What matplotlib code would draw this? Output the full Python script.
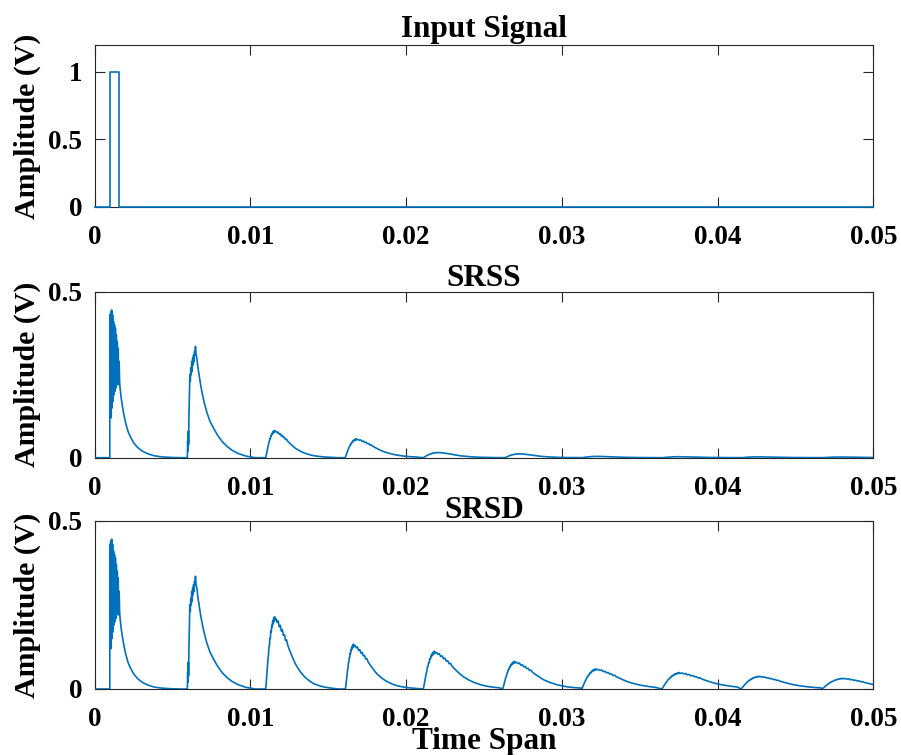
import numpy as np
import matplotlib
matplotlib.use("Agg")
import matplotlib.pyplot as plt

# ---------------- data (times in ms, amplitudes in V) ----------------
input_t = [0.0, 1.0, 1.0, 1.56, 1.56, 50.0]
input_v = [0, 0, 1, 1, 0, 0]

# first response pulse (same in both outputs)
pulse1_t = [0.97, 0.97, 1.00, 1.03, 1.06, 1.09, 1.12, 1.15, 1.18, 1.21,
            1.24, 1.27, 1.30, 1.33, 1.36, 1.39, 1.42, 1.45, 1.48, 1.51,
            1.54, 1.57, 1.60, 1.63, 1.70, 1.78, 1.88, 2.00, 2.15, 2.30,
            2.50, 2.75, 3.05, 3.40, 3.80, 4.30, 4.90, 5.50]
pulse1_v = [0.0, 0.43, 0.17, 0.44, 0.12, 0.445, 0.15, 0.43, 0.17, 0.41,
            0.19, 0.40, 0.20, 0.39, 0.21, 0.37, 0.22, 0.35, 0.23, 0.33,
            0.22, 0.29, 0.23, 0.21, 0.18, 0.155, 0.128, 0.102, 0.078, 0.062,
            0.045, 0.031, 0.02, 0.012, 0.006, 0.0025, 0.0008, 0.0]

# second response pulse (same in both outputs)
pulse2_t = [5.95, 5.97, 5.99, 6.01, 6.03, 6.05, 6.08, 6.11, 6.14, 6.17,
            6.20, 6.23, 6.26, 6.29, 6.32, 6.35, 6.38, 6.41, 6.44, 6.47,
            6.51, 6.56, 6.62, 6.70, 6.80, 6.92, 7.05, 7.20, 7.40, 7.62,
            7.90, 8.20, 8.50, 8.80, 9.20, 9.70, 10.30]
pulse2_v = [0.0, 0.05, 0.02, 0.08, 0.04, 0.12, 0.19, 0.25, 0.23, 0.27,
            0.25, 0.29, 0.26, 0.30, 0.28, 0.31, 0.29, 0.32, 0.31, 0.335,
            0.31, 0.30, 0.275, 0.25, 0.22, 0.19, 0.163, 0.137, 0.11, 0.09,
            0.067, 0.048, 0.034, 0.023, 0.013, 0.005, 0.0]

# shape of later pulses: rising part and decaying part
rise_u = [0.0, 0.05, 0.10, 0.15, 0.20, 0.25, 0.30, 0.35, 0.40, 0.45, 0.50,
          0.55, 0.60, 0.65, 0.70, 0.75, 0.80, 0.85, 0.90, 0.95, 1.0]
rise_a = [0.0, 0.07, 0.16, 0.24, 0.34, 0.42, 0.47, 0.58, 0.60, 0.70, 0.70,
          0.80, 0.79, 0.88, 0.86, 0.94, 0.90, 0.98, 0.93, 1.0, 0.95]
decay_w = [0.05, 0.10, 0.15, 0.20, 0.25, 0.30, 0.35, 0.40, 0.45, 0.50, 0.55,
           0.60, 0.70, 0.80, 0.90, 1.00, 1.20, 1.40, 1.60, 1.80, 2.00, 2.30,
           2.60, 3.00]
decay_a = [0.97, 0.92, 0.94, 0.86, 0.88, 0.80, 0.82, 0.74, 0.75, 0.67, 0.68,
           0.61, 0.53, 0.46, 0.39, 0.33, 0.24, 0.17, 0.12, 0.08, 0.055, 0.03,
           0.015, 0.0]

# SRSS pulses 3..10
srss_start = [10.98, 16.08, 21.1, 26.35, 31.3, 36.4, 41.5, 46.7]
srss_peak_t = [11.58, 16.83, 22.07, 27.3, 32.3, 37.5, 42.6, 47.9]
srss_peak_v = [0.082, 0.057, 0.016, 0.012, 0.004, 0.003, 0.0025, 0.002]
srss_decay = [1.35, 1.7, 1.5, 1.4, 1.6, 1.7, 1.8, 1.8]

# SRSD pulses 3..10
srsd_start = [10.98, 16.1, 21.1, 26.2, 31.27, 36.41, 41.5, 46.7]
srsd_peak_t = [11.58, 16.65, 21.86, 27.0, 32.24, 37.6, 42.7, 48.1]
srsd_peak_v = [0.215, 0.133, 0.112, 0.082, 0.06, 0.049, 0.038, 0.032]
srsd_decay = [1.35, 1.5, 1.8, 1.85, 2.1, 2.3, 2.2, 2.2]

x_ticks = [0, 0.01, 0.02, 0.03, 0.04, 0.05]
x_ticklabels = ["0", "0.01", "0.02", "0.03", "0.04", "0.05"]

LINE = "#0072BD"


def build_series(starts, peak_ts, peak_vs, decays):
    t_all = [0.0] + list(pulse1_t) + list(pulse2_t)
    v_all = [0.0] + list(pulse1_v) + list(pulse2_v)
    ru, ra = np.asarray(rise_u), np.asarray(rise_a)
    dw, da = np.asarray(decay_w), np.asarray(decay_a)
    n = len(starts)
    for i in range(n):
        s, pt, pv, d = starts[i], peak_ts[i], peak_vs[i], decays[i]
        tt = np.concatenate([s + ru * (pt - s), pt + dw * d])
        vv = np.concatenate([ra * pv, da * pv])
        if i + 1 < n:
            keep = tt < starts[i + 1]
            tt, vv = tt[keep], vv[keep]
        t_all.extend(tt.tolist())
        v_all.extend(vv.tolist())
    t_all.append(60.0)
    v_all.append(0.0)
    return np.asarray(t_all) / 1000.0, np.asarray(v_all)


plt.rcParams['font.family'] = ['Liberation Serif', 'DejaVu Serif']
plt.rcParams['font.weight'] = 'bold'

W, H = 901, 755
fig = plt.figure(figsize=(W / 100, H / 100), dpi=100)


def make_axes(top_px, bottom_px):
    left, right = 94.7, 873.3
    return fig.add_axes([left / W, (H - bottom_px) / H,
                         (right - left) / W, (bottom_px - top_px) / H])


ax1 = make_axes(45.0, 206.7)
ax2 = make_axes(291.7, 457.7)
ax3 = make_axes(520.7, 689.0)

LW = 1.2
ax1.plot(np.asarray(input_t) / 1000.0, input_v, color=LINE, lw=LW,
         zorder=3, clip_on=False)
t_ss, v_ss = build_series(srss_start, srss_peak_t, srss_peak_v, srss_decay)
t_sd, v_sd = build_series(srsd_start, srsd_peak_t, srsd_peak_v, srsd_decay)
ax2.plot(t_ss, v_ss, color=LINE, lw=LW, zorder=3)
ax3.plot(t_sd, v_sd, color=LINE, lw=LW, zorder=3)

ax1.set_ylim(0, 1.2)
ax1.set_yticks([0, 0.5, 1])
ax1.set_yticklabels(["0", "0.5", "1"])
for ax in (ax2, ax3):
    ax.set_ylim(0, 0.5)
    ax.set_yticks([0, 0.5])
    ax.set_yticklabels(["0", "0.5"])

for ax in (ax1, ax2, ax3):
    ax.set_xlim(0, 0.05)
    ax.set_xticks(x_ticks)
    ax.set_xticklabels(x_ticklabels)
    ax.tick_params(axis='both', direction='in', length=7, width=0.8,
                   color='#262626', labelsize=19.5, top=True, right=True)
    ax.tick_params(axis='x', pad=13)
    ax.tick_params(axis='y', pad=9)
    for sp in ax.spines.values():
        sp.set_color('#262626')
        sp.set_linewidth(0.8)
    ax.set_ylabel("Amplitude (V)", fontsize=21.5, fontweight='bold')
    ax.yaxis.set_label_coords(-0.069, 0.5)

ax1.set_title("Input Signal", fontsize=22.5, fontweight='bold', pad=5.5)
ax2.set_title("SRSS", fontsize=22.5, fontweight='bold', pad=4)
ax3.set_title("SRSD", fontsize=22.5, fontweight='bold', pad=2)
ax3.set_xlabel("Time Span", fontsize=22.5, fontweight='bold')
ax3.xaxis.set_label_coords(0.5, -0.225)

fig.savefig("out.png", dpi=100)
